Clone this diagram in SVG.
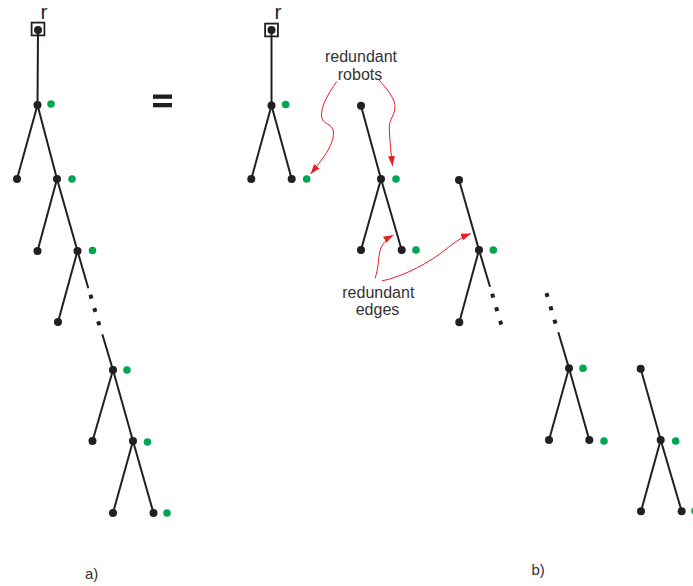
<svg xmlns="http://www.w3.org/2000/svg" width="693" height="586" viewBox="0 0 693 586">
  <style>
    .edge { stroke: #231f20; stroke-width: 2; fill: none; }
    .dots { stroke: #231f20; stroke-width: 4; fill: none; }
    .note { stroke: #ed1c24; stroke-width: 1; fill: none; }
    .n { fill: #231f20; }
    .g { fill: #00a651; }
    .box { fill: none; stroke: #231f20; stroke-width: 1.8; }
    .lbl { font-family: "Liberation Sans", Arial, sans-serif; fill: #333333; }
    .root { font-family: "Liberation Sans", Arial, sans-serif; font-size: 21px; fill: #231f20; }
  </style>
  <defs>
    <marker id="redArrow" markerUnits="userSpaceOnUse" markerWidth="10" markerHeight="7" refX="10" refY="3.5" orient="auto">
      <path d="M0,0 L10,3.5 L0,7 z" fill="#ed1c24"/>
    </marker>
    <circle id="dot" r="4"/>
    <circle id="robot" r="3.8"/>
  </defs>

  <!-- edges of both trees -->
  <g id="connectors">
    <!-- tree a -->
    <line class="edge" x1="38" y1="30" x2="37.5" y2="105"/>
    <line class="edge" x1="37.5" y1="105" x2="17" y2="179"/>
    <line class="edge" x1="37.5" y1="105" x2="57" y2="179"/>
    <line class="edge" x1="57" y1="179" x2="37.5" y2="251"/>
    <line class="edge" x1="57" y1="179" x2="77.5" y2="251"/>
    <line class="edge" x1="77.5" y1="251" x2="58" y2="322"/>
    <line class="edge" x1="77.5" y1="251" x2="88.3" y2="288.3"/>
    <line class="dots" x1="90.44" y1="294.78" x2="99.26" y2="325.22" stroke-dasharray="4 9.85"/>
    <line class="edge" x1="102.3" y1="334.3" x2="113" y2="370"/>
    <line class="edge" x1="113" y1="370" x2="92.5" y2="441"/>
    <line class="edge" x1="113" y1="370" x2="133" y2="441"/>
    <line class="edge" x1="133" y1="441" x2="113" y2="513"/>
    <line class="edge" x1="133" y1="441" x2="153.5" y2="513"/>

    <!-- tree b, first piece -->
    <line class="edge" x1="271.5" y1="30" x2="271.5" y2="105.5"/>
    <line class="edge" x1="271.5" y1="105.5" x2="251.3" y2="179"/>
    <line class="edge" x1="271.5" y1="105.5" x2="291.7" y2="179"/>
    <!-- second piece -->
    <line class="edge" x1="361" y1="105.7" x2="381" y2="179"/>
    <line class="edge" x1="381" y1="179" x2="361" y2="250"/>
    <line class="edge" x1="381" y1="179" x2="401.7" y2="250"/>
    <!-- third piece -->
    <line class="edge" x1="459" y1="180" x2="479" y2="250"/>
    <line class="edge" x1="479" y1="250" x2="459.3" y2="322.3"/>
    <line class="edge" x1="479" y1="250" x2="490" y2="286.7"/>
    <line class="dots" x1="492.13" y1="293.78" x2="501.27" y2="324.62" stroke-dasharray="4 10.08"/>
    <!-- fourth piece -->
    <line class="dots" x1="546.43" y1="293.08" x2="555.57" y2="323.62" stroke-dasharray="4 9.94"/>
    <line class="edge" x1="558.3" y1="332.3" x2="569" y2="368.3"/>
    <line class="edge" x1="569" y1="368.3" x2="549" y2="440"/>
    <line class="edge" x1="569" y1="368.3" x2="589.3" y2="440"/>
    <!-- fifth piece -->
    <line class="edge" x1="640.7" y1="368.7" x2="660.7" y2="440"/>
    <line class="edge" x1="660.7" y1="440" x2="641" y2="511.3"/>
    <line class="edge" x1="660.7" y1="440" x2="681.7" y2="511.3"/>

    <!-- red annotation arrows -->
    <path class="note" marker-end="url(#redArrow)" d="M336.7,81.7 C328,94 321,106 321.5,116 C322,125 333,123 333.5,132 C334,145 322,160 310.5,174"/>
    <path class="note" marker-end="url(#redArrow)" d="M379,80 C386,88 396,99 395,108 C394,117 389,119 389.3,128 C389.6,140 391,152 392.5,166"/>
    <path class="note" marker-end="url(#redArrow)" d="M375,278.3 C379,268 378,255 381,248 C383,243 388,238 393.5,235"/>
    <path class="note" marker-end="url(#redArrow)" d="M381.7,281 C405,276 430,262 445,250 C455,242 462,237 471,233.5"/>
  </g>

  <!-- tree a nodes -->
  <g id="a-root">
    <rect class="box" x="31.6" y="22.6" width="12.8" height="12.8"/>
    <use href="#dot" class="n" x="38" y="30"/>
    <text class="root" x="40.5" y="19">r</text>
  </g>
  <g id="a-n1"><use href="#dot" class="n" x="37.5" y="105"/><use href="#robot" class="g" x="51" y="104"/></g>
  <g id="a-l1"><use href="#dot" class="n" x="17" y="179"/></g>
  <g id="a-n2"><use href="#dot" class="n" x="57" y="179"/><use href="#robot" class="g" x="72" y="179"/></g>
  <g id="a-l2"><use href="#dot" class="n" x="37.5" y="251"/></g>
  <g id="a-n3"><use href="#dot" class="n" x="77.5" y="251"/><use href="#robot" class="g" x="92.5" y="250.5"/></g>
  <g id="a-l3"><use href="#dot" class="n" x="58" y="322"/></g>
  <g id="a-n4"><use href="#dot" class="n" x="113" y="370"/><use href="#robot" class="g" x="127" y="370"/></g>
  <g id="a-l4"><use href="#dot" class="n" x="92.5" y="441"/></g>
  <g id="a-n5"><use href="#dot" class="n" x="133" y="441"/><use href="#robot" class="g" x="147.5" y="442"/></g>
  <g id="a-l5"><use href="#dot" class="n" x="113" y="513"/></g>
  <g id="a-l6"><use href="#dot" class="n" x="153.5" y="513"/><use href="#robot" class="g" x="167" y="513"/></g>

  <!-- equals sign -->
  <g id="equals">
    <rect x="153" y="94.5" width="19" height="4.3" fill="#231f20"/>
    <rect x="153" y="103" width="19" height="4.3" fill="#231f20"/>
  </g>

  <!-- tree b nodes -->
  <g id="b-root">
    <rect class="box" x="265.1" y="23.6" width="12.8" height="12.8"/>
    <use href="#dot" class="n" x="271.5" y="30"/>
    <text class="root" x="274.5" y="19">r</text>
  </g>
  <g id="b-n1"><use href="#dot" class="n" x="271.5" y="105.5"/><use href="#robot" class="g" x="285.7" y="104.5"/></g>
  <g id="b-l1"><use href="#dot" class="n" x="251.3" y="179"/></g>
  <g id="b-l2"><use href="#dot" class="n" x="291.7" y="179"/><use href="#robot" class="g" x="306.7" y="179"/></g>

  <g id="b-t2"><use href="#dot" class="n" x="361" y="105.7"/></g>
  <g id="b-n2"><use href="#dot" class="n" x="381" y="179"/><use href="#robot" class="g" x="396" y="179"/></g>
  <g id="b-l3"><use href="#dot" class="n" x="361" y="250"/></g>
  <g id="b-l4"><use href="#dot" class="n" x="401.7" y="250"/><use href="#robot" class="g" x="416" y="250"/></g>

  <g id="b-t3"><use href="#dot" class="n" x="459" y="180"/></g>
  <g id="b-n3"><use href="#dot" class="n" x="479" y="250"/><use href="#robot" class="g" x="493.3" y="250"/></g>
  <g id="b-l5"><use href="#dot" class="n" x="459.3" y="322.3"/></g>

  <g id="b-n4"><use href="#dot" class="n" x="569" y="368.3"/><use href="#robot" class="g" x="583" y="368.3"/></g>
  <g id="b-l6"><use href="#dot" class="n" x="549" y="440"/></g>
  <g id="b-l7"><use href="#dot" class="n" x="589.3" y="440"/><use href="#robot" class="g" x="604" y="441"/></g>

  <g id="b-t5"><use href="#dot" class="n" x="640.7" y="368.7"/></g>
  <g id="b-n5"><use href="#dot" class="n" x="660.7" y="440"/><use href="#robot" class="g" x="675.7" y="441"/></g>
  <g id="b-l8"><use href="#dot" class="n" x="641" y="511.3"/></g>
  <g id="b-l9"><use href="#dot" class="n" x="681.7" y="511.3"/><use href="#robot" class="g" x="695" y="511"/></g>

  <!-- labels -->
  <g id="label-robots" class="lbl" font-size="16" text-anchor="middle">
    <text x="361" y="62">redundant</text>
    <text x="360" y="79.5">robots</text>
  </g>
  <g id="label-edges" class="lbl" font-size="16" text-anchor="middle">
    <text x="378.3" y="298.3">redundant</text>
    <text x="377.5" y="315">edges</text>
  </g>
  <text id="caption-a" class="lbl" font-size="15" x="85" y="579">a)</text>
  <text id="caption-b" class="lbl" font-size="15" x="531.5" y="575">b)</text>
</svg>
